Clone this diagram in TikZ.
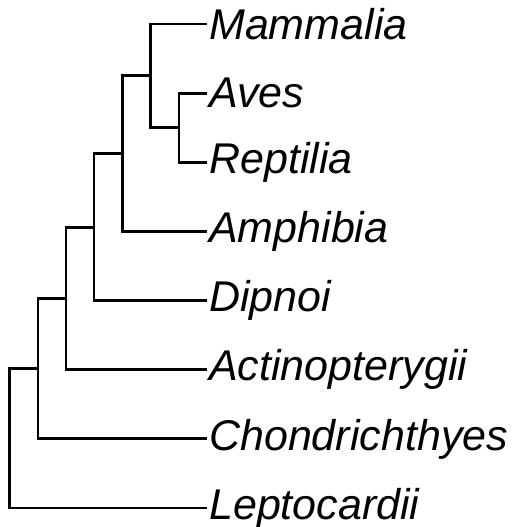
\documentclass[tikz,border=0pt]{standalone}
\usepackage{fontspec}
\setmainfont{Liberation Sans}
\begin{document}
\begin{tikzpicture}[x=1pt,y=1pt,
  branch/.style={line width=2.9pt, line join=miter},
  taxon/.style={anchor=west, inner sep=0pt, xshift=2pt,
    font=\fontsize{43}{50}\selectfont\itshape}]
\useasboundingbox (0,0) rectangle (514,527);
% leaf tips
\coordinate (tM) at (207,503);
\coordinate (tAv) at (207,433.9);
\coordinate (tR) at (207,364.7);
\coordinate (tAm) at (207,295.6);
\coordinate (tD) at (207,226.4);
\coordinate (tAc) at (207,157.3);
\coordinate (tC) at (207,88.1);
\coordinate (tL) at (207,19);
% internal nodes
\coordinate (n1) at (179,399.3);
\coordinate (n2) at (150.5,451.15);
\coordinate (n3) at (122.5,373.4);
\coordinate (n4) at (94,299.9);
\coordinate (n5) at (66,228.6);
\coordinate (n6) at (38,158.35);
\coordinate (n7) at (9.5,88.7);
% labels
\node[taxon] (mammalia) at (tM) {Mammalia};
\node[taxon] (aves) at (tAv) {Aves};
\node[taxon] (reptilia) at (tR) {Reptilia};
\node[taxon] (amphibia) at (tAm) {Amphibia};
\node[taxon] (dipnoi) at (tD) {Dipnoi};
\node[taxon] (actino) at (tAc) {Actinopterygii};
\node[taxon] (chondro) at (tC) {Chondrichthyes};
\node[taxon] (lepto) at (tL) {Leptocardii};
% branches
\draw[branch] (n1) |- (tAv);
\draw[branch] (n1) |- (tR);
\draw[branch] (n2) |- (tM);
\draw[branch] (n2) |- (n1);
\draw[branch] (n3) |- (n2);
\draw[branch] (n3) |- (tAm);
\draw[branch] (n4) |- (n3);
\draw[branch] (n4) |- (tD);
\draw[branch] (n5) |- (n4);
\draw[branch] (n5) |- (tAc);
\draw[branch] (n6) |- (n5);
\draw[branch] (n6) |- (tC);
\draw[branch] (n7) |- (n6);
\draw[branch] (n7) |- (tL);
\end{tikzpicture}
\end{document}
